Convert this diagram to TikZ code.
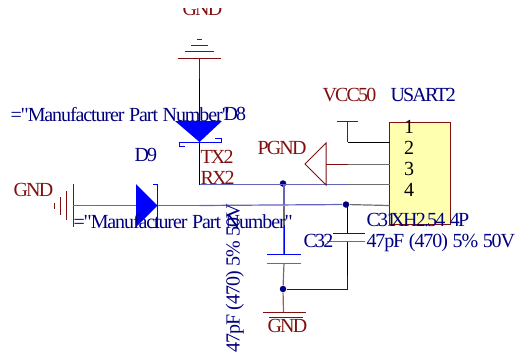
\documentclass[tikz,border=0pt]{standalone}
\usepackage{fontspec}
\newfontfamily\lblfont[LetterSpace=-9,WordSpace=1.4]{Liberation Serif}
\newfontfamily\txtfont[LetterSpace=-5.5,WordSpace=1.2]{Liberation Serif}
\definecolor{wre}{RGB}{128,16,16}
\definecolor{blu}{RGB}{0,0,255}
\definecolor{nav}{RGB}{0,0,128}
\definecolor{wir}{RGB}{100,100,190}
\definecolor{gry}{RGB}{110,110,110}
\definecolor{yel}{RGB}{255,255,176}
\tikzset{
	lbl/.style={anchor=base west,inner sep=0pt,font=\lblfont\fontsize{20}{20}\selectfont},
	rlbl/.style={lbl,text=wre},
	blbl/.style={lbl,text=nav},
	tlbl/.style={blbl,font=\txtfont\fontsize{20}{20}\selectfont},
	pinnum/.style={lbl,anchor=base,text=black},
	dot/.style={circle,fill=nav,inner sep=0pt,minimum size=6.5pt}
}

\begin{document}
\begin{tikzpicture}[x=1pt,y=1pt,yscale=-1,xscale=1,line width=1]
	\useasboundingbox (0,0) rectangle (515,360);

	% connector
	\draw [wre,fill=yel] (389.5,122) rectangle (450,224);
	\coordinate (pintwo) at (389.5,142);
	\coordinate (pinthree) at (389.5,164);
	\coordinate (pinfour) at (389.5,184.5);
	\coordinate (pinfive) at (389.5,205.5);
	\node [dot] (jrx) at (283,183.5) {};
	\node [dot] (jtx) at (346,204.5) {};
	\node [dot] (jgnd) at (283,289) {};

	% top ground and D8
	\draw [wre] (178,58) -- (221,58);
	\draw [wre] (184.5,51.5) -- (214,51.5);
	\draw [wre] (191,45) -- (208,45);
	\draw [wre] (197,39) -- (202,39);
	\coordinate (gt) at (199.5,58);
	\coordinate (gtb) at (199.5,79);
	\coordinate (rxc) at (199.5,184.5);
	\draw [wre] (gt) -- (gtb);
	\draw [black] (gtb) -- (199.5,142);
	\draw [black] (199.5,142) -- (rxc);
	\fill [blu] (175,121) -- (222,121) -- (199.5,142) -- cycle;
	\draw [blu] (185,146) -- (179,146) -- (179,142) -- (221,142) -- (221,138) -- (215,138);

	% left ground and D9
	\draw [wre] (73,184) -- (73,227);
	\draw [wre] (66.5,191) -- (66.5,220);
	\draw [wre] (60,197) -- (60,215);
	\draw [wre] (54,203) -- (54,209);
	\coordinate (gl) at (73,205.5);
	\coordinate (glb) at (95,205.5);
	\coordinate (dn) at (157.5,205.5);
	\coordinate (txc) at (199.5,205.5);
	\draw [wre!70!white,line width=1.2] (gl) -- (glb);
	\draw [gry,line width=1.2] (glb) -- (dn) -- (txc);
	\draw [wir,line width=1.2] (txc) -- (jtx);
	\draw [gry,line width=1.2] (jtx) -- (pinfive);
	\fill [blu] (136,184) -- (157.5,205.5) -- (136,227) -- cycle;
	\draw [blu] (153,184.5) -- (157.5,184.5) -- (157.5,227) -- (153,227);

	% RX2 wire
	\coordinate (rxb) at (348,184.5);
	\draw [wir,line width=1.2] (rxc) -- (rxb);
	\draw [gry,line width=1.2] (rxb) -- (pinfour);

	% VCC and PGND
	\draw [wre] (336.5,121) -- (358,121);
	\coordinate (vc) at (347.5,121);
	\draw [wre] (vc) -- (347.5,142);
	\draw [black] (347.5,142) -- (pintwo);
	\draw [wre] (326,143) -- (305,164) -- (326,185) -- cycle;
	\coordinate (pg) at (326,164);
	\coordinate (pgb) at (348,164);
	\draw [wre] (pg) -- (pgb);
	\draw [gry] (pgb) -- (pinthree);

	% caps
	\draw [gry,line width=1.2] (284,206) -- (284,254);
	\draw [wir,line width=1.2] (284,184) -- (284,205);
	\draw [blu] (267,254) -- (301,254);
	\draw [wir] (267,263) -- (301,263);
	\draw [blu] (284,225) -- (284,254);
	\draw [gry,line width=1.2] (284,263) -- (jgnd);
	\draw [wre!70!white,line width=1.2] (jgnd) -- (283.5,312);
	\draw [wre] (263,312) -- (306,312);
	\draw [wre] (269,317.5) -- (303,317.5);

	\draw [black] (347.5,204.5) -- (347.5,233);
	\draw [blu] (333,233) -- (365,233);
	\draw [wir,line width=1.4] (327,241.5) -- (365,241.5);
	\draw [black] (347.5,241.5) -- (347.5,275);
	\draw [blu] (347.5,275) |- (jgnd);

	% labels
	\begin{scope}
		\clip (170,8) rectangle (240,30);
		\node [rlbl] (gndtop) at (182,15.5) {GND};
	\end{scope}
	\node [rlbl] (gndleft) at (13,196) {GND};
	\node [rlbl] (gndbot) at (267,332) {GND};
	\node [rlbl] (vccl) at (322,101) {VCC50};
	\node [rlbl] (pgndl) at (257,154) {PGND};
	\node [rlbl] (txl) at (200,163.5) {TX2};
	\node [rlbl] (rxl) at (200,184) {RX2};
	\node [blbl] (usartl) at (390,101) {USART2};
	\node [blbl] (deight) at (223,120.5) {D8};
	\node [blbl] (dnine) at (134,161.5) {D9};
	\node [tlbl] (partb) at (10,121.5) {="Manufacturer Part Number"};
	\node [tlbl] (parta) at (73,228) {="Manufacturer Part Number"};
	\node [blbl] (cone) at (366,226.5) {C31};
	\node [blbl] (ctwo) at (303,247) {C32};
	\node [blbl] (xhl) at (390,226.5) {XH2.54 4P};
	\node [tlbl] (capa) at (366,247.5) {47pF (470) 5\% 50V};
	\node [tlbl,rotate=90] (capb) at (239.5,353) {47pF (470) 5\% 50V};
	\node [pinnum] (pa) at (409,133) {1};
	\node [pinnum] (pb) at (409,154) {2};
	\node [pinnum] (pc) at (409,175) {3};
	\node [pinnum] (pd) at (409,196) {4};
\end{tikzpicture}
\end{document}
